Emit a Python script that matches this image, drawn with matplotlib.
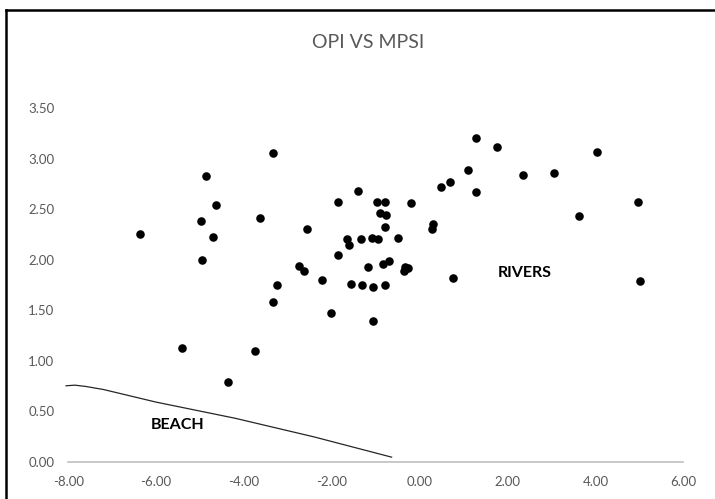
import matplotlib
matplotlib.use("Agg")
import matplotlib.pyplot as plt
from matplotlib.lines import Line2D

# Scatter data (OPI vs MPSI)
opi = [-6.36, -5.42, -4.99, -4.96, -4.86, -4.70, -4.64, -4.37, -3.74, -3.63,
       -3.35, -3.33, -3.24, -2.74, -2.63, -2.57, -2.23, -2.01, -1.87, -1.85,
       -1.66, -1.60, -1.56, -1.40, -1.33, -1.31, -1.18, -1.09, -1.07, -1.07,
       -0.98, -0.96, -0.90, -0.83, -0.78, -0.77, -0.78, -0.78, -0.70, -0.50,
       -0.33, -0.27, -0.36, -0.20, 0.31, 0.27, 0.48, 0.70, 0.75, 1.11,
       1.29, 1.29, 1.76, 2.35, 3.06, 3.63, 4.04, 4.97, 5.01]
mpsi = [2.26, 1.13, 2.38, 2.00, 2.83, 2.23, 2.54, 0.79, 1.10, 2.41,
        1.58, 3.06, 1.75, 1.94, 1.89, 2.30, 1.80, 1.47, 2.05, 2.57,
        2.21, 2.15, 1.76, 2.68, 2.21, 1.75, 1.93, 2.22, 1.73, 1.39,
        2.57, 2.21, 2.46, 1.96, 2.57, 2.44, 2.32, 1.75, 1.99, 2.22,
        1.93, 1.92, 1.89, 2.56, 2.35, 2.30, 2.72, 2.77, 1.82, 2.89,
        3.21, 2.67, 3.12, 2.84, 2.86, 2.43, 3.07, 2.57, 1.79]

# Hand-drawn "beach" boundary line
beach_x = [-8.05, -7.85, -7.6, -7.2, -6.0, -4.2, -2.4, -0.64]
beach_y = [0.752, 0.758, 0.745, 0.715, 0.59, 0.43, 0.245, 0.045]

x_ticks = [-8, -6, -4, -2, 0, 2, 4, 6]
y_ticks = [0.0, 0.5, 1.0, 1.5, 2.0, 2.5, 3.0, 3.5]

title = "OPI VS MPSI"
FONT = "Lato"
GRAY = "#595959"

fig = plt.figure(figsize=(7.15, 4.99), dpi=100)
W, H = 715, 499
ax = fig.add_axes([68.3 / W, 1 - 461.7 / H, (683.3 - 68.3) / W, (461.7 - 108.3) / H])

ax.scatter(opi, mpsi, s=38, color="black", zorder=3, linewidths=0)
ax.plot(beach_x, beach_y, color="#262626", lw=0.9, zorder=2, clip_on=False,
        solid_joinstyle="round")

ax.set_xlim(-8, 6)
ax.set_ylim(0, 3.5)
ax.set_xticks(x_ticks)
ax.set_yticks(y_ticks)
ax.set_xticklabels([f"{v:.2f}" for v in x_ticks], fontfamily=FONT, fontsize=9.5, color=GRAY)
ax.set_yticklabels([f"{v:.2f}" for v in y_ticks], fontfamily=FONT, fontsize=9.5, color=GRAY)
ax.tick_params(axis="x", length=0, pad=10)
ax.tick_params(axis="y", length=0, pad=10)

for side in ["top", "right", "left"]:
    ax.spines[side].set_visible(False)
ax.spines["bottom"].set_color("#BFBFBF")
ax.spines["bottom"].set_linewidth(1.2)

ax.text(2.40, 1.87, "RIVERS", fontfamily=FONT, fontweight="bold", fontsize=11.5,
        ha="center", va="center", color="black")
ax.text(-5.51, 0.36, "BEACH", fontfamily=FONT, fontweight="bold", fontsize=11.5,
        ha="center", va="center", color="black")

fig.text(368 / W, 1 - 42 / H, title, fontfamily=FONT, fontsize=14, color=GRAY,
         ha="center", va="center")

# Chart-area border (left and top visible)
fig.add_artist(Line2D([6 / W, 6 / W], [0, 1 - 10 / H], transform=fig.transFigure,
                      color="black", lw=1.8))
fig.add_artist(Line2D([6 / W, 1], [1 - 10 / H, 1 - 10 / H], transform=fig.transFigure,
                      color="black", lw=1.8))

fig.savefig("out.png", dpi=100)
